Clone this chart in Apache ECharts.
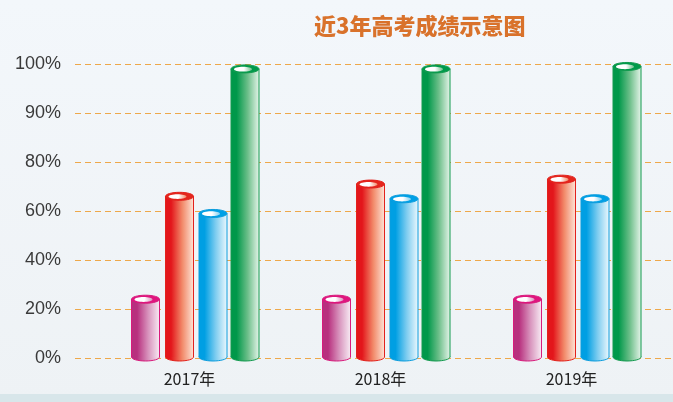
<!DOCTYPE html>
<html>
<head>
<meta charset="utf-8">
<script src="https://cdn.jsdelivr.net/npm/echarts@6/dist/echarts.min.js"></script>
<style>html,body{margin:0;padding:0;}#c{width:673px;height:402px;}</style>
</head>
<body>
<div id="c"></div>
<script>
// ---- data ----
var years = ['2017年', '2018年', '2019年'];
var tickValues = [0, 20, 40, 60, 80, 90, 100];
var tickLabels = ['0%', '20%', '40%', '60%', '80%', '90%', '100%'];
var pinkVals = [24, 24, 24];
var redVals = [66, 71, 73];
var blueVals = [59, 65, 65];
var greenVals = [99, 99, 99.5];

// axis is evenly spaced between uneven tick values -> piecewise map
function toAxis(v) {
  for (var i = 0; i < tickValues.length - 1; i++) {
    if (v <= tickValues[i + 1]) {
      return i + (v - tickValues[i]) / (tickValues[i + 1] - tickValues[i]);
    }
  }
  return tickValues.length - 1;
}

var palettes = [
  { dark: '#b8307e', mid: '#d894bd', light: '#f7eaf3', edge: '#d81b7c', top: '#e0157f' },
  { dark: '#e3161b', mid: '#f28a6a', light: '#fde3d6', edge: '#e3211c', top: '#e4261d' },
  { dark: '#009fe3', mid: '#7fcdf0', light: '#eaf7fd', edge: '#0c9ddd', top: '#00a0e6' },
  { dark: '#00984a', mid: '#6dbf8a', light: '#e3f3e8', edge: '#139a4f', top: '#009a4a' }
];
var offsets = [-44, -10, 23.5, 55.5];

function makeRender(si) {
  return function (params, api) {
    var cat = api.value(0);
    var val = api.value(1);
    var top = api.coord([cat, val]);
    var base = api.coord([cat, 0]);
    var p = palettes[si];
    var w = 28, ry = 4;
    var cx = top[0] + offsets[si];
    var x0 = cx - w / 2;
    var grad = new echarts.graphic.LinearGradient(0, 0, 1, 0, [
      { offset: 0, color: p.dark },
      { offset: 0.2, color: p.dark },
      { offset: 0.6, color: p.mid },
      { offset: 1, color: p.light }
    ]);
    return {
      type: 'group',
      children: [
        { type: 'ellipse', shape: { cx: cx, cy: base[1] - 1, rx: w / 2, ry: ry },
          style: { fill: grad, stroke: p.edge, lineWidth: 1 } },
        { type: 'rect', shape: { x: x0, y: top[1], width: w, height: base[1] - 1 - top[1] },
          style: { fill: grad } },
        { type: 'line', shape: { x1: x0, y1: top[1], x2: x0, y2: base[1] - 1 },
          style: { stroke: p.edge, lineWidth: 1 } },
        { type: 'line', shape: { x1: x0 + w, y1: top[1], x2: x0 + w, y2: base[1] - 1 },
          style: { stroke: p.edge, lineWidth: 1 } },
        { type: 'ellipse', shape: { cx: cx, cy: top[1], rx: w / 2, ry: ry },
          style: { fill: p.top, stroke: p.edge, lineWidth: 1 } },
        { type: 'ellipse', shape: { cx: cx - 2, cy: top[1] + 0.3, rx: w / 2 - 5, ry: ry - 1.6 },
          style: { fill: new echarts.graphic.LinearGradient(0, 0, 1, 0, [
            { offset: 0, color: '#ffffff' }, { offset: 0.55, color: '#ffffff' }, { offset: 1, color: p.mid }]) } }
      ]
    };
  };
}

var seriesVals = [pinkVals, redVals, blueVals, greenVals];
var series = seriesVals.map(function (vals, si) {
  return {
    type: 'custom',
    xAxisIndex: 0,
    yAxisIndex: 0,
    renderItem: makeRender(si),
    data: vals.map(function (v, i) { return [i, toAxis(v)]; }),
    z: 5
  };
});

var chart = echarts.init(document.getElementById('c'), null, { renderer: 'canvas' });
chart.setOption({
  animation: false,
  backgroundColor: new echarts.graphic.LinearGradient(0, 0, 0, 1, [
    { offset: 0, color: '#f3f7fb' }, { offset: 1, color: '#eef2f5' }
  ]),
  graphic: [
    { type: 'rect', left: 0, bottom: 0, shape: { width: 673, height: 8 },
      style: { fill: '#d8e6ea' }, z: 0 }
  ],
  title: {
    text: '近3年高考成绩示意图',
    left: 309, top: 10,
    textStyle: { fontSize: 22, fontWeight: 900, color: '#d9722b', fontFamily: 'Noto Sans CJK SC' }
  },
  grid: [
    { left: 94, right: 6, top: 64, bottom: 44 },
    { left: 75, right: 0, top: 64, bottom: 44 }
  ],
  xAxis: [
    { type: 'category', gridIndex: 0, data: years,
      axisLine: { show: false }, axisTick: { show: false },
      axisLabel: { margin: 13, fontSize: 16, color: '#222', fontFamily: 'Noto Sans CJK SC' } },
    { type: 'value', gridIndex: 1, show: false, min: 0, max: 1 }
  ],
  yAxis: [
    { type: 'value', gridIndex: 0, min: 0, max: 6, interval: 1, show: false },
    { type: 'value', gridIndex: 1, min: 0, max: 6, interval: 1,
      axisLine: { show: false }, axisTick: { show: false },
      axisLabel: { margin: 14, fontSize: 18, color: '#3a3a3a', fontFamily: 'Liberation Sans',
        formatter: function (v) { return tickLabels[Math.round(v)]; } },
      splitLine: { show: true, lineStyle: { color: '#eea84a', type: [6, 4], width: 1 } } }
  ],
  series: series
});
</script>
</body>
</html>
